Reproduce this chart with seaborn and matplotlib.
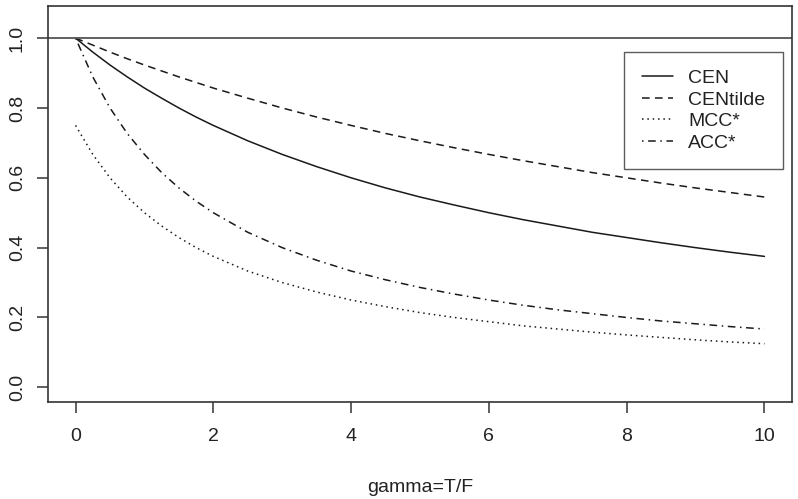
import numpy as np
import pandas as pd
import matplotlib
matplotlib.use("Agg")
import matplotlib.pyplot as plt
import seaborn as sns

# nilai
gamma = [0, 0.25, 0.5, 0.75, 1, 1.25, 1.5, 1.75, 2, 2.5, 3, 3.5, 4, 4.5, 5,
         5.5, 6, 6.5, 7, 7.5, 8, 8.5, 9, 9.5, 10]
cen = [1.000, 0.960, 0.923, 0.889, 0.857, 0.828, 0.800, 0.774, 0.750, 0.706,
       0.667, 0.632, 0.600, 0.571, 0.545, 0.522, 0.500, 0.480, 0.462, 0.444,
       0.429, 0.414, 0.400, 0.387, 0.375]
cen_tilde = [1.000, 0.980, 0.960, 0.941, 0.923, 0.906, 0.889, 0.873, 0.857,
             0.828, 0.800, 0.774, 0.750, 0.727, 0.706, 0.686, 0.667, 0.649,
             0.632, 0.615, 0.600, 0.585, 0.571, 0.558, 0.545]
mcc_star = [0.750, 0.667, 0.600, 0.545, 0.500, 0.462, 0.429, 0.400, 0.375,
            0.333, 0.300, 0.273, 0.250, 0.231, 0.214, 0.200, 0.188, 0.176,
            0.167, 0.158, 0.150, 0.143, 0.136, 0.130, 0.125]
acc_star = [1.000, 0.889, 0.800, 0.727, 0.667, 0.615, 0.571, 0.533, 0.500,
            0.444, 0.400, 0.364, 0.333, 0.308, 0.286, 0.267, 0.250, 0.235,
            0.222, 0.211, 0.200, 0.190, 0.182, 0.174, 0.167]

labels = ["CEN", "CENtilde", "MCC*", "ACC*"]
x_ticks = [0, 2, 4, 6, 8, 10]
y_ticks = [0.0, 0.2, 0.4, 0.6, 0.8, 1.0]

sns.set_style("white")
plt.rcParams["font.family"] = ["Liberation Sans", "DejaVu Sans"]
plt.rcParams["font.size"] = 14

series = [cen, cen_tilde, mcc_star, acc_star]
styles = ["-", (0, (5, 3.5)), (0, (1, 2.5)), (0, (1, 3, 5, 3))]

fig = plt.figure(figsize=(7.98, 4.99), dpi=100)
ax = fig.add_axes([48 / 798, (499 - 402) / 499, (792 - 48) / 798, (402 - 6) / 499])

for vals, lab, ls in zip(series, labels, styles):
    sns.lineplot(x=gamma, y=vals, ax=ax, color="#1a1a1a", linewidth=1.1,
                 linestyle=ls, label=lab)

ax.axhline(1.0, color="#555555", linewidth=1.3)

ax.set_xlim(-0.4, 10.4)
ax.set_ylim(-0.042, 1.092)
ax.set_xticks(x_ticks)
ax.set_yticks(y_ticks)
ax.set_xticklabels([str(t) for t in x_ticks])
ax.set_yticklabels([f"{t:.1f}" for t in y_ticks], rotation=90, va="center")
ax.tick_params(axis="both", direction="out", length=8, width=1.2,
               color="#444444", labelcolor="#222222", bottom=True, left=True)
ax.tick_params(axis="x", pad=11)
ax.tick_params(axis="y", pad=8)
ax.set_xlabel("gamma=T/F", color="#222222", labelpad=24)
ax.set_ylabel("")

for sp in ax.spines.values():
    sp.set_color("#333333")
    sp.set_linewidth(1.2)

leg = ax.legend(loc="upper right", bbox_to_anchor=(0.988, 0.884),
                borderaxespad=0, frameon=True, fancybox=False,
                handlelength=1.6, handletextpad=0.8, labelspacing=0.2,
                borderpad=0.9)
leg.get_frame().set_edgecolor("#333333")
leg.get_frame().set_linewidth(1.0)
for t in leg.get_texts():
    t.set_color("#222222")

fig.savefig("out.png", dpi=100)
plt.close(fig)
